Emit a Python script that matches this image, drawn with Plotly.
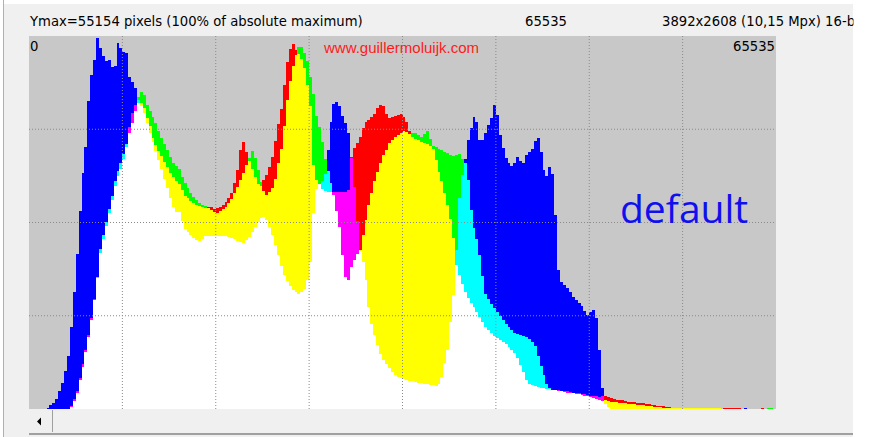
import plotly.graph_objects as go

# ---------------- data (RGB histogram, % of Ymax = 55154 pixels) ----------------
bin_width = 256
levels = list(range(128, 65536, bin_width))   # bin centres over 0..65535

red = [
    0, 0, 0, 0, 0, 0, 0, 0, 0, 0,
    0, 0, 0, 0.1, 0.8, 2.7, 4.8, 8.3, 12.1, 15.8,
    19.8, 24.4, 29.5, 35.1, 41.8, 45.6, 49.1, 52.5, 56.0, 59.8,
    62.5, 64.3, 67.0, 70.2, 75.5, 79.4, 81.5, 82.0, 82.0, 80.7,
    78.0, 75.9, 72.7, 70.8, 69.2, 67.8, 66.2, 64.9, 63.3, 62.2,
    61.1, 60.3, 58.7, 57.1, 56.6, 55.8, 55.2, 54.7, 54.4, 54.2,
    53.9, 54.2, 54.2, 53.6, 53.9, 54.2, 54.7, 55.5, 56.6, 58.0,
    60.6, 64.1, 69.4, 71.6, 68.9, 66.5, 64.3, 62.2, 60.3, 59.8,
    61.4, 62.7, 64.9, 67.6, 71.8, 76.4, 80.4, 86.9, 93.0, 96.5,
    97.9, 96.2, 95.1, 93.8, 91.4, 86.9, 81.2, 65.4, 61.4, 60.3,
    59.0, 58.4, 58.2, 58.2, 58.2, 58.2, 58.2, 58.2, 58.2, 58.7,
    67.6, 70.0, 71.3, 72.9, 75.3, 76.9, 77.5, 78.3, 79.1, 80.7,
    81.5, 81.2, 79.1, 78.0, 78.3, 78.6, 78.8, 79.1, 78.3, 76.9,
    74.5, 72.9, 72.4, 72.1, 71.6, 71.3, 71.0, 70.5, 69.7, 66.8,
    63.5, 61.1, 57.9, 54.7, 50.9, 45.8, 38.6, 35.9, 33.5, 31.4,
    29.8, 28.4, 27.3, 26.0, 24.7, 23.3, 22.0, 21.2, 20.4, 19.6,
    19.0, 18.5, 18.0, 17.4, 16.6, 15.8, 15.0, 13.7, 11.8, 9.9,
    7.8, 6.7, 6.4, 6.2, 5.9, 5.6, 5.6, 5.4, 5.4, 5.1,
    5.1, 5.1, 4.8, 4.8, 4.7, 4.6, 4.4, 4.3, 4.2, 4.0,
    3.9, 3.8, 3.6, 3.5, 3.4, 3.2, 3.5, 3.5, 3.1, 2.9,
    2.7, 2.5, 2.4, 2.3, 2.1, 2.0, 1.9, 1.9, 1.7, 1.6,
    1.5, 1.4, 1.3, 1.2, 1.1, 0.9, 0.8, 0.7, 0.5, 0.5,
    0.4, 0.3, 0.3, 0.2, 0.4, 0.4, 0.4, 0.4, 0.4, 0.4,
    0.4, 0.4, 0.4, 0.4, 0.4, 0.4, 0.4, 0, 0.4, 0.4,
    0.4, 0.4, 0.4, 0.4, 0, 0, 0, 0, 0, 0,
    0, 0.4, 0, 0, 0, 0,
]

green = [
    0, 0, 0, 0, 0, 0, 0, 0, 0, 0,
    0, 0, 0, 0.1, 0.5, 2.1, 4.3, 7.8, 11.3, 15.3,
    19.3, 23.9, 29.2, 35.4, 42.9, 46.6, 50.1, 53.6, 57.1, 61.1,
    63.8, 66.0, 68.4, 71.0, 74.0, 76.7, 79.9, 83.6, 84.9, 84.2,
    81.5, 79.9, 78.3, 76.7, 74.5, 72.7, 71.0, 69.4, 67.6, 65.9,
    65.1, 64.3, 62.2, 60.6, 59.2, 57.9, 56.8, 56.0, 55.2, 54.7,
    54.4, 53.9, 53.4, 52.8, 52.5, 53.1, 53.6, 54.2, 55.2, 56.3,
    57.9, 59.5, 61.4, 63.3, 65.4, 67.3, 69.2, 67.3, 64.1, 60.9,
    58.4, 57.4, 58.2, 59.2, 61.7, 66.0, 69.7, 75.9, 82.8, 87.9,
    91.9, 94.9, 97.1, 97.1, 95.4, 93.3, 89.0, 84.5, 78.6, 75.6,
    71.6, 67.0, 63.8, 60.6, 57.4, 53.1, 48.8, 41.3, 35.4, 34.6,
    38.1, 39.9, 41.6, 42.6, 46.6, 50.7, 54.7, 57.9, 61.1, 63.5,
    66.0, 68.1, 69.4, 71.3, 72.1, 72.9, 73.5, 74.0, 74.5, 74.3,
    73.7, 74.0, 74.0, 73.5, 72.9, 73.7, 74.5, 72.4, 70.5, 70.2,
    69.7, 69.4, 68.9, 68.6, 68.1, 67.8, 68.1, 68.4, 67.0, 65.9,
    61.4, 53.4, 48.5, 45.6, 41.3, 35.7, 30.8, 29.5, 28.2, 27.1,
    26.0, 24.9, 23.9, 22.8, 22.0, 21.2, 20.4, 20.1, 19.8, 19.6,
    19.3, 18.8, 18.0, 16.9, 14.2, 11.5, 9.1, 6.7, 5.6, 5.2,
    5.1, 4.8, 4.7, 4.6, 4.4, 4.3, 4.2, 4.0, 3.9, 3.8,
    3.6, 3.4, 3.2, 2.9, 2.7, 2.4, 2.1, 2.3, 2.1, 2.0,
    1.9, 1.8, 1.7, 1.6, 1.5, 1.4, 1.3, 1.3, 1.2, 1.1,
    1.0, 0.9, 0.8, 0.7, 0.6, 0.5, 0.5, 0.4, 0.3, 0.3,
    0.3, 0.3, 0.3, 0.3, 0.4, 0.4, 0.4, 0.4, 0.4, 0.4,
    0.4, 0.4, 0.4, 0.4, 0.4, 0.4, 0.4, 0, 0.1, 0.1,
    0.1, 0.1, 0.1, 0.1, 0, 0, 0, 0, 0, 0,
    0, 0, 0, 0.4, 0.4, 0,
]

blue = [
    0, 0, 0, 0, 0, 0, 0.4, 1.1, 1.7, 2.7,
    4.8, 7.0, 10.2, 14.2, 22.0, 31.4, 41.6, 53.1, 63.3, 70.2,
    82.6, 89.5, 93.6, 99.5, 96.8, 94.6, 93.3, 93.6, 91.7, 92.0,
    98.0, 96.8, 95.7, 95.4, 89.0, 87.7, 86.1, 82.8, 81.2, 79.4,
    76.7, 74.0, 71.6, 69.2, 66.8, 64.3, 61.7, 59.2, 56.6, 54.2,
    52.8, 52.8, 50.4, 48.3, 47.5, 46.6, 45.8, 45.3, 45.0, 45.6,
    46.4, 46.4, 46.4, 46.4, 46.4, 46.4, 46.4, 46.4, 46.1, 45.8,
    45.6, 45.0, 44.8, 44.5, 45.3, 46.1, 47.5, 48.8, 50.1, 51.2,
    51.5, 50.7, 48.8, 46.6, 44.0, 41.3, 38.3, 35.9, 34.3, 33.0,
    31.9, 31.4, 30.8, 31.4, 32.2, 34.6, 39.4, 52.5, 59.0, 60.3,
    61.1, 63.0, 69.4, 76.9, 81.8, 82.3, 81.2, 78.6, 76.7, 74.0,
    67.3, 59.5, 50.4, 42.4, 39.4, 34.6, 27.3, 22.8, 19.8, 17.2,
    14.7, 13.1, 12.1, 11.0, 9.9, 9.1, 8.6, 8.3, 8.0, 7.8,
    7.5, 7.5, 7.2, 7.0, 7.0, 6.7, 6.7, 6.4, 6.4, 6.2,
    6.7, 8.6, 12.3, 15.8, 23.3, 30.6, 42.6, 56.6, 62.7, 67.0,
    72.1, 75.3, 78.3, 77.0, 72.1, 72.1, 74.0, 76.1, 77.9, 81.5,
    78.8, 73.5, 70.0, 67.3, 66.0, 65.1, 66.0, 67.6, 66.5, 66.0,
    68.1, 68.9, 69.7, 71.8, 72.7, 68.9, 64.1, 62.5, 64.9, 63.0,
    52.0, 37.3, 34.0, 33.2, 32.4, 31.4, 30.0, 29.2, 28.4, 27.6,
    26.3, 25.2, 26.0, 26.5, 24.4, 15.8, 5.6, 1.3, 0.5, 0.1,
    0, 0, 0, 0, 0, 0, 0, 0, 0, 0,
    0, 0, 0, 0, 0, 0, 0, 0, 0, 0,
    0, 0, 0, 0, 0, 0, 0, 0, 0, 0,
    0, 0, 0, 0, 0, 0, 0, 0, 0, 0,
    0, 0, 0, 0, 0, 0.4, 0, 0, 0, 0,
    0, 0, 0, 0, 0, 0,
]

assert len(red) == len(green) == len(blue) == len(levels), (len(red), len(green), len(blue))

header_left = "Ymax=55154 pixels (100% of absolute maximum)"
header_mid = "65535"
header_right = "3892x2608 (10,15 Mpx) 16-bit"
axis_min_label = "0"
axis_max_label = "65535"
watermark = "www.guillermoluijk.com"
preset = "default"

# ---------------- geometry helpers (pixels -> paper) ----------------
W, H = 876, 437
PL, PR, PT, PB = 29, 776, 36, 409


def fx(x):
    return (x - PL) / (PR - PL)


def fy(y):
    return (PB - y) / (PB - PT)


# ---------------- additive RGB histogram layers ----------------
pure = {"R": "#ff0000", "G": "#00ff00", "B": "#0000ff"}
mix = {frozenset("RG"): "#ffff00", frozenset("GB"): "#00ffff", frozenset("RB"): "#ff00ff"}

lo, mid, hi, mid_col, hi_col = [], [], [], [], []
for r, g, b in zip(red, green, blue):
    ch = sorted([(r, "R"), (g, "G"), (b, "B")], key=lambda t: t[0])
    lo.append(ch[0][0])
    mid.append(ch[1][0])
    hi.append(ch[2][0])
    mid_col.append(mix[frozenset(ch[1][1] + ch[2][1])])
    hi_col.append(pure[ch[2][1]])

fig = go.Figure()
fig.add_bar(x=levels, y=lo, base=0, width=bin_width,
            marker=dict(color="#ffffff", line=dict(width=0), opacity=1))
fig.add_bar(x=levels, y=[m - l for m, l in zip(mid, lo)], base=lo, width=bin_width,
            marker=dict(color=mid_col, line=dict(width=0), opacity=1))
fig.add_bar(x=levels, y=[h - m for h, m in zip(hi, mid)], base=mid, width=bin_width,
            marker=dict(color=hi_col, line=dict(width=0), opacity=1))

shapes = []
grid_col = "#8a8a8a"
for k in range(1, 8):
    shapes.append(dict(type="line", xref="x", yref="paper", x0=k * 8192, x1=k * 8192,
                       y0=0, y1=1, layer="above",
                       line=dict(color=grid_col, width=1, dash="1px,2px")))
for v in (25, 50, 75):
    shapes.append(dict(type="line", xref="paper", yref="y", x0=0, x1=1, y0=v, y1=v,
                       layer="above", line=dict(color=grid_col, width=1, dash="1px,2px")))

# window chrome
shapes += [
    dict(type="rect", xref="paper", yref="paper", x0=fx(853), x1=fx(W + 2), y0=fy(H + 2), y1=fy(-2),
         fillcolor="#ffffff", line=dict(width=0), layer="below"),
    dict(type="rect", xref="paper", yref="paper", x0=fx(-2), x1=fx(W + 2), y0=fy(4), y1=fy(-2),
         fillcolor="#ffffff", line=dict(width=0), layer="below"),
    dict(type="rect", xref="paper", yref="paper", x0=fx(-2), x1=fx(3), y0=fy(H + 2), y1=fy(-2),
         fillcolor="#ffffff", line=dict(width=0), layer="below"),
    dict(type="line", xref="paper", yref="paper", x0=fx(3.5), x1=fx(3.5), y0=fy(H + 2), y1=fy(0),
         line=dict(color="#9fb4cc", width=1)),
    # scrollbar
    dict(type="rect", xref="paper", yref="paper", x0=fx(29), x1=fx(853), y0=fy(433), y1=fy(410),
         fillcolor="#f0f0f0", line=dict(width=0)),
    dict(type="line", xref="paper", yref="paper", x0=fx(52.5), x1=fx(52.5), y0=fy(432), y1=fy(410),
         line=dict(color="#a0a0a0", width=1)),
    dict(type="line", xref="paper", yref="paper", x0=fx(29), x1=fx(853), y0=fy(434), y1=fy(434),
         line=dict(color="#a0a0a0", width=2)),
    dict(type="path", xref="paper", yref="paper",
         path="M {} {} L {} {} L {} {} Z".format(fx(37), fy(421.5), fx(41), fy(417.5), fx(41), fy(425.5)),
         fillcolor="#000000", line=dict(width=0)),
]

ann_font = dict(family="DejaVu Sans", size=13.2, color="#000000")
annotations = [
    dict(text=header_left, x=fx(27), y=fy(22), xanchor="left", yanchor="middle", font=ann_font),
    dict(text=header_mid, x=fx(546), y=fy(22), xanchor="center", yanchor="middle", font=ann_font),
    dict(text=header_right, x=fx(660), y=fy(22), xanchor="left", yanchor="middle", font=ann_font),
    dict(text=" ", x=fx(853), y=fy(22), xanchor="left", yanchor="middle", width=30, height=30,
         bgcolor="#ffffff", borderpad=0, font=ann_font),
    dict(text=axis_min_label, x=fx(28), y=fy(46), xanchor="left", yanchor="middle", font=ann_font),
    dict(text=axis_max_label, x=fx(777), y=fy(46), xanchor="right", yanchor="middle", font=ann_font),
    dict(text=watermark, x=fx(401), y=fy(47), xanchor="center", yanchor="middle",
         font=dict(family="Liberation Sans", size=15, color="#ff1a1a")),
    dict(text=preset, x=fx(684), y=fy(207), xanchor="center", yanchor="middle",
         font=dict(family="Open Sans", size=39, color="#1010ee")),
]
for a in annotations:
    a.update(xref="paper", yref="paper", showarrow=False)

fig.update_layout(
    width=W, height=H,
    margin=dict(l=PL, r=W - PR, t=PT, b=H - PB, pad=0),
    paper_bgcolor="#f0f0f0",
    plot_bgcolor="#c8c8c8",
    barmode="overlay",
    bargap=0,
    showlegend=False,
    hovermode=False,
    xaxis=dict(range=[0, 65536], visible=False, fixedrange=True),
    yaxis=dict(range=[0, 100], visible=False, fixedrange=True),
    shapes=shapes,
    annotations=annotations,
)

fig.write_html("out.html", config={"displayModeBar": False, "staticPlot": True})
